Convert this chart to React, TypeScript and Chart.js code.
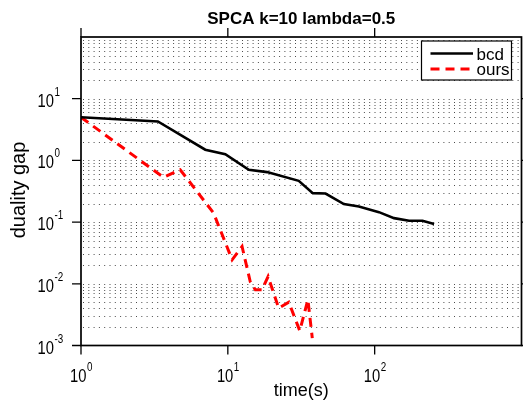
import React, { useEffect, useRef } from 'react';
import { Chart, registerables } from 'chart.js';

Chart.register(...registerables);

// ---- data ----
const bcdTime = [1, 3.34, 7.02, 9.61, 13.9, 18.5, 30.4, 37.9, 46.3, 61.7, 78.1, 107, 135.5, 171.5, 211.7, 254];
const bcdGap = [5.0, 4.27, 1.49, 1.26, 0.705, 0.646, 0.467, 0.295, 0.29, 0.196, 0.179, 0.145, 0.116, 0.105, 0.105, 0.093];
const oursTime = [1, 3.65, 4.74, 8.0, 10.7, 12.5, 14.2, 15.4, 17.1, 18.8, 22.2, 26.0, 30.9, 35.1, 37.6];
const oursGap = [5.0, 0.53, 0.705, 0.14, 0.0245, 0.0403, 0.0109, 0.008, 0.008, 0.0131, 0.00404, 0.00505, 0.00173, 0.00551, 0.00132];

const xTickValues = [1, 10, 100];
const xTickExponents = ['0', '1', '2'];
const yTickValues = [0.001, 0.01, 0.1, 1, 10];
const yTickExponents = ['-3', '-2', '-1', '0', '1'];
const gridDecades = [-3, -2, -1, 0, 1];
const gridMantissas = [1, 2, 3, 4, 5, 6, 7, 8, 9];

const seriesNames = ['bcd', 'ours'];
const titleText = 'SPCA k=10 lambda=0.5';
const xTitle = 'time(s)';
const yTitle = 'duality gap';

const FONT = '"Liberation Sans", Arial, sans-serif';

function txt(ctx: CanvasRenderingContext2D, s: string, x: number, y: number, font: string,
  align: CanvasTextAlign, baseline: CanvasTextBaseline, sx = 1) {
  ctx.save();
  ctx.translate(x, y);
  ctx.scale(sx, 1);
  ctx.font = font;
  ctx.textAlign = align;
  ctx.textBaseline = baseline;
  ctx.fillStyle = '#000';
  ctx.fillText(s, 0, 0);
  ctx.restore();
}

function measure(ctx: CanvasRenderingContext2D, s: string, font: string, sx = 1) {
  ctx.save();
  ctx.font = font;
  const w = ctx.measureText(s).width * sx;
  ctx.restore();
  return w;
}

const BASE_FONT = `18px ${FONT}`;
const EXP_FONT = `12px ${FONT}`;
const SX = 0.82;

const axesPlugin = {
  id: 'matlabAxes',
  beforeDatasetsDraw(chart: any) {
    const { ctx, chartArea: a, scales } = chart;
    const y = scales.y;
    ctx.save();
    ctx.strokeStyle = 'rgba(0,0,0,0.7)';
    ctx.lineWidth = 1;
    ctx.setLineDash([1, 4.3]);
    for (const d of gridDecades) {
      for (const m of gridMantissas) {
        const v = m * Math.pow(10, d);
        const py = Math.round(y.getPixelForValue(v)) + 0.5;
        if (py < a.top + 1 || py > a.bottom - 1) continue;
        ctx.beginPath();
        ctx.moveTo(a.left + 2, py);
        ctx.lineTo(a.right, py);
        ctx.stroke();
      }
    }
    ctx.restore();
  },
  afterDatasetsDraw(chart: any) {
    const { ctx, chartArea: a, scales } = chart;
    const xs = scales.x;
    const ys = scales.y;
    ctx.save();
    // box
    ctx.strokeStyle = '#000';
    ctx.lineWidth = 1.7;
    ctx.setLineDash([]);
    ctx.strokeRect(a.left, a.top, a.right - a.left, a.bottom - a.top);
    // ticks
    ctx.lineWidth = 1.3;
    const TL = 9;
    xTickValues.forEach((v) => {
      const px = xs.getPixelForValue(v);
      ctx.beginPath();
      ctx.moveTo(px, a.bottom);
      ctx.lineTo(px, a.bottom + TL);
      ctx.moveTo(px, a.top);
      ctx.lineTo(px, a.top - TL);
      ctx.stroke();
    });
    yTickValues.forEach((v) => {
      const py = ys.getPixelForValue(v);
      ctx.beginPath();
      ctx.moveTo(a.left, py);
      ctx.lineTo(a.left - TL, py);
      ctx.moveTo(a.right, py);
      ctx.lineTo(a.right + TL, py);
      ctx.stroke();
    });
    // x tick labels
    xTickValues.forEach((v, i) => {
      const px = xs.getPixelForValue(v);
      const w10 = measure(ctx, '10', BASE_FONT, SX);
      const we = measure(ctx, xTickExponents[i], EXP_FONT, SX);
      const start = px - (w10 + we) / 2;
      const base = a.bottom + 36;
      txt(ctx, '10', start, base, BASE_FONT, 'left', 'alphabetic', SX);
      txt(ctx, xTickExponents[i], start + w10 + 0.5, base - 11, EXP_FONT, 'left', 'alphabetic', SX);
    });
    // y tick labels
    yTickValues.forEach((v, i) => {
      const py = ys.getPixelForValue(v);
      const w10 = measure(ctx, '10', BASE_FONT, SX);
      const start = 37.5;
      const base = py + 8;
      txt(ctx, '10', start, base, BASE_FONT, 'left', 'alphabetic', SX);
      txt(ctx, yTickExponents[i], start + w10 + 0.5, base - 11, EXP_FONT, 'left', 'alphabetic', SX);
    });
    // titles
    const cx = (a.left + a.right) / 2;
    txt(ctx, titleText, cx, 24, `bold 17px ${FONT}`, 'center', 'alphabetic');
    txt(ctx, xTitle, cx, 396, `18px ${FONT}`, 'center', 'alphabetic');
    ctx.save();
    ctx.translate(25, 190);
    ctx.rotate(-Math.PI / 2);
    txt(ctx, yTitle, 0, 0, `20px ${FONT}`, 'center', 'alphabetic');
    ctx.restore();
    // legend
    const lx = 421.5, ly = 41, lw = 90, lh = 39;
    ctx.fillStyle = '#fff';
    ctx.fillRect(lx, ly, lw, lh);
    ctx.strokeStyle = '#000';
    ctx.lineWidth = 1.2;
    ctx.strokeRect(lx, ly, lw, lh);
    const ds = chart.data.datasets;
    [53.5, 69].forEach((yy, i) => {
      ctx.save();
      ctx.strokeStyle = ds[i].borderColor;
      ctx.lineWidth = ds[i].borderWidth;
      ctx.setLineDash(ds[i].borderDash || []);
      ctx.beginPath();
      ctx.moveTo(430.5, yy);
      ctx.lineTo(473, yy);
      ctx.stroke();
      ctx.restore();
      txt(ctx, seriesNames[i], 476.5, yy + 6, `17px ${FONT}`, 'left', 'alphabetic');
    });
    ctx.restore();
  },
};

export default function App() {
  const ref = useRef<HTMLCanvasElement | null>(null);
  useEffect(() => {
    if (!ref.current) return;
    const chart = new Chart(ref.current, {
      type: 'line',
      data: {
        datasets: [
          {
            label: seriesNames[0],
            data: bcdTime.map((t, i) => ({ x: t, y: bcdGap[i] })),
            borderColor: '#000000',
            borderWidth: 2.6,
            pointRadius: 0,
            tension: 0,
          },
          {
            label: seriesNames[1],
            data: oursTime.map((t, i) => ({ x: t, y: oursGap[i] })),
            borderColor: '#ff0000',
            borderWidth: 3,
            borderDash: [9, 6],
            pointRadius: 0,
            tension: 0,
          },
        ],
      },
      options: {
        animation: false,
        responsive: false,
        events: [],
        layout: { padding: { left: 81, top: 37, right: 1.5, bottom: 56.5 } },
        plugins: { legend: { display: false }, title: { display: false }, tooltip: { enabled: false } },
        scales: {
          x: { type: 'logarithmic', min: 1, max: 1000, display: false },
          y: { type: 'logarithmic', min: 0.001, max: 100, display: false },
        },
      },
      plugins: [axesPlugin],
    });
    return () => chart.destroy();
  }, []);
  return (
    <div style={{ position: 'fixed', left: 0, top: 0, width: 523, height: 402, background: '#fff' }}>
      <canvas ref={ref} width={523} height={402} style={{ display: 'block' }} />
    </div>
  );
}
